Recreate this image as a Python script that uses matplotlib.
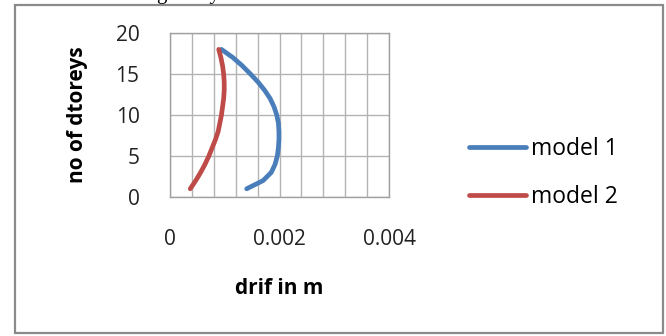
import matplotlib.pyplot as plt
from matplotlib.patches import Rectangle
from matplotlib.ticker import MultipleLocator

# storey number vs drift (m)
storeys = list(range(1, 19))
model_1 = [0.00140, 0.00170, 0.00185, 0.00192, 0.00196, 0.00198, 0.00199, 0.00199, 0.00198,
           0.00195, 0.00190, 0.00183, 0.00173, 0.00161, 0.00147, 0.00132, 0.00115, 0.00094]
model_2 = [0.00037, 0.00047, 0.00056, 0.00064, 0.00071, 0.00077, 0.00083, 0.00088, 0.00091,
           0.00094, 0.00096, 0.00098, 0.00099, 0.00099, 0.00098, 0.00096, 0.00093, 0.00089]
series_names = ["model 1", "model 2"]
x_ticks = [0, 0.002, 0.004]
x_tick_labels = ["0", "0.002", "0.004"]
y_ticks = [0, 5, 10, 15, 20]

plt.rcParams["font.family"] = ["Open Sans", "DejaVu Sans"]

fig = plt.figure(figsize=(6.66, 3.36), dpi=100)
ax = fig.add_axes([170 / 666, 1 - 197 / 336, 219 / 666, 164 / 336])

ax.plot(model_1, storeys, color="#4a7ebb", lw=3.4, solid_capstyle="round", label=series_names[0])
ax.plot(model_2, storeys, color="#be4b48", lw=3.4, solid_capstyle="round", label=series_names[1])

ax.set_xlim(0, 0.004)
ax.set_ylim(0, 20)
ax.xaxis.set_minor_locator(MultipleLocator(0.0004))
ax.set_xticks(x_ticks)
ax.set_xticklabels(x_tick_labels)
ax.set_yticks(y_ticks)
ax.grid(True, which="both", color="#b3b3b3", lw=1)
ax.set_axisbelow(True)
for sp in ax.spines.values():
    sp.set_color("#a0a0a0")
    sp.set_linewidth(1)
ax.tick_params(which="both", length=0)
ax.tick_params(axis="x", labelsize=15, pad=23, colors="#222222")
ax.tick_params(axis="y", labelsize=15, pad=22, colors="#222222")

ax.set_xlabel("drif in m", fontsize=15, fontweight="bold", labelpad=20)
ax.set_ylabel("no of dtoreys", fontsize=15, fontweight="bold", labelpad=20)

ax.legend(loc="center left", bbox_to_anchor=(1.27, 0.145), frameon=False, fontsize=16.5,
          handlelength=2.5, handletextpad=0.2, labelspacing=1.05)

# outer chart frame
fig.patches.append(Rectangle((15 / 666, 3 / 336), 648 / 666, 328 / 336, transform=fig.transFigure,
                             fill=False, edgecolor="#8a8a8a", lw=1.6))

# clipped text from the page above the chart
fig.text(0.235, 1.004, "g        y", family="Liberation Serif", fontsize=15, va="baseline")

fig.savefig("out.png", dpi=100)
